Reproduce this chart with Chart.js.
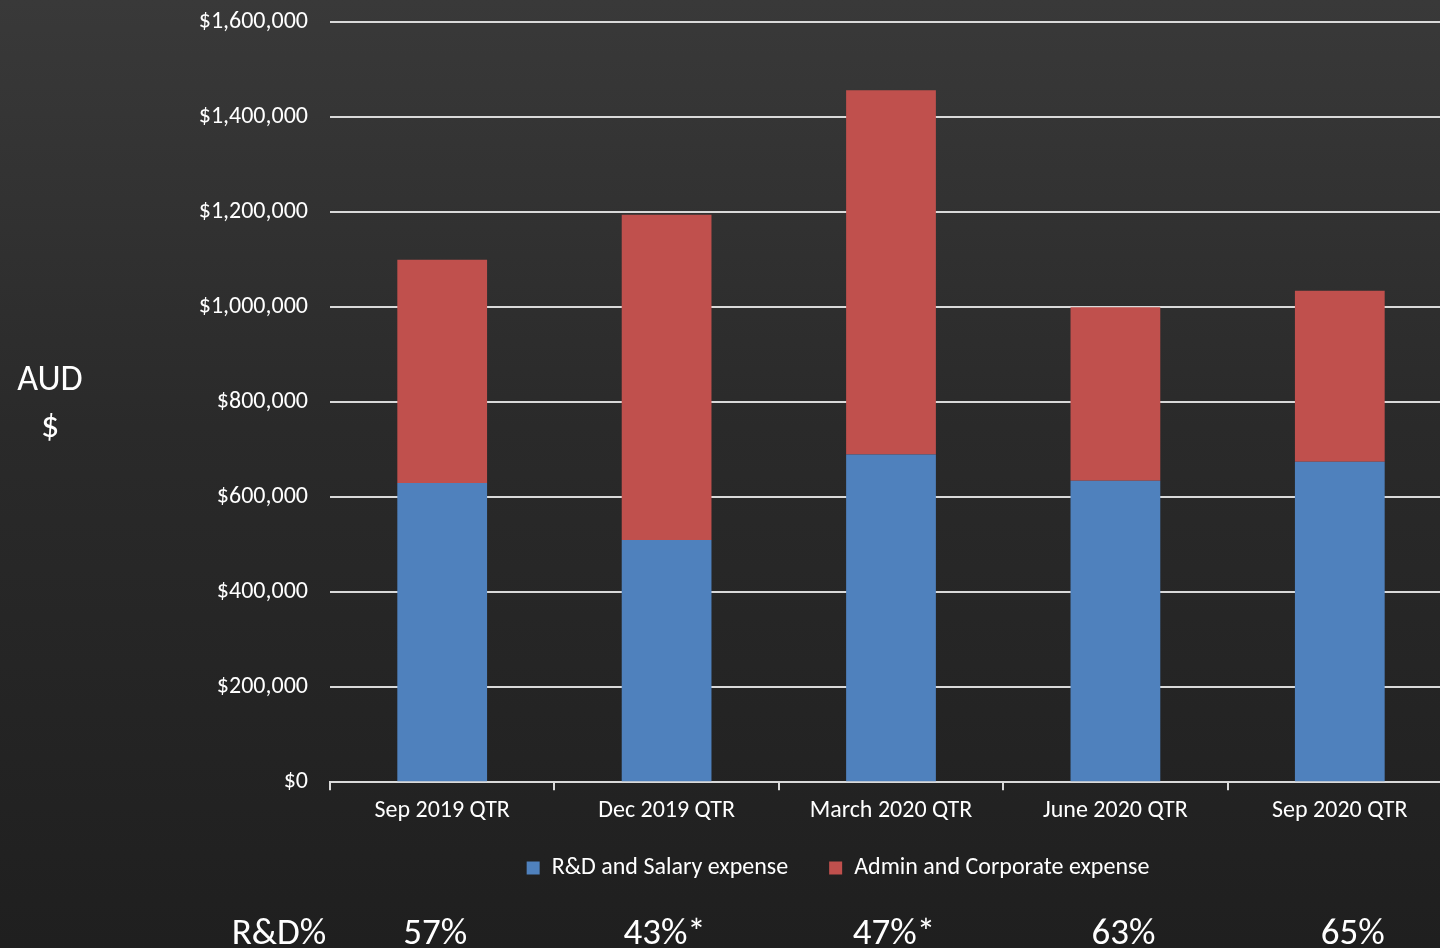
<!DOCTYPE html>
<html>
<head>
<meta charset="utf-8">
<script src="https://cdn.jsdelivr.net/npm/chart.js@4"></script>
<style>
  html, body { margin: 0; padding: 0; }
  body {
    width: 1440px; height: 948px; overflow: hidden;
    background: linear-gradient(180deg, #393939 0%, #2a2a2a 45%, #1f1f1f 100%);
  }
  #wrap { position: relative; width: 1440px; height: 948px; overflow: hidden; }
  /* plot runs a little past the right edge, and the top tick sits close to the top */
  #costChart { position: absolute; left: 0; top: -14px; }
  .aud {
    position: absolute; left: 0; width: 100px; top: 355px;
    color: #fff; font: 36px Carlito, Lato, sans-serif; text-align: center; line-height: 47px;
  }
</style>
</head>
<body>
<div id="wrap">
  <canvas id="costChart" width="1452" height="962"></canvas>
  <div class="aud">AUD<br>$</div>
</div>
<script>
const quarters = ["Sep 2019 QTR", "Dec 2019 QTR", "March 2020 QTR", "June 2020 QTR", "Sep 2020 QTR"];
const rdSalary = [630000, 510000, 690000, 635000, 675000];
const adminCorporate = [470000, 685000, 767000, 365000, 360000];
const rdPercent = ["57%", "43%*", "47%*", "63%", "65%"];

const FONT = "Carlito, Lato, sans-serif";
const fmt = v => "$" + v.toLocaleString("en-US");

// R&D% row under the legend
const rdRow = {
  id: "rdRow",
  afterLayout(chart) {
    // legend sits right of centre in the original
    const lg = chart.legend;
    lg.left += 112; lg.right += 112;
    lg.top -= 16; lg.bottom -= 16;
  },
  afterDraw(chart) {
    const ctx = chart.ctx;
    const x = chart.scales.x;
    const y = chart.height - 13;
    ctx.save();
    ctx.fillStyle = "#ffffff";
    ctx.font = "37px " + FONT;
    ctx.textAlign = "center";
    ctx.textBaseline = "middle";
    ctx.fillText("R&D%", 279, y);
    // the percentages sit a little off the category centres
    rdPercent.forEach((p, i) => ctx.fillText(p, x.getPixelForValue(i) + (i - 1) * 5 - 2, y));
    ctx.restore();
  }
};

document.addEventListener("DOMContentLoaded", () => {
  const ctx = document.getElementById("costChart").getContext("2d");
  new Chart(ctx, {
    type: "bar",
    data: {
      labels: quarters,
      datasets: [
        { label: "R&D and Salary expense", data: rdSalary, backgroundColor: "#4f81bd" },
        { label: "Admin and Corporate expense", data: adminCorporate, backgroundColor: "#c0504d" }
      ]
    },
    options: {
      responsive: false,
      animation: false,
      layout: { padding: { top: 0, right: 0, bottom: 42, left: 0 } },
      datasets: { bar: { categoryPercentage: 1, barPercentage: 0.4 } },
      scales: {
        x: {
          stacked: true,
          grid: { offset: true, drawOnChartArea: false, drawTicks: true, tickLength: 8, color: "#d9d9d9", lineWidth: 2 },
          border: { color: "#d9d9d9", width: 2 },
          ticks: { color: "#ffffff", font: { family: FONT, size: 24 }, padding: 6 }
        },
        y: {
          stacked: true,
          min: 0, max: 1600000,
          afterFit(scale) { scale.width = 330; },
          grid: { color: "#d9d9d9", lineWidth: 2, drawTicks: false },
          border: { display: false },
          ticks: { stepSize: 200000, color: "#ffffff", font: { family: FONT, size: 24 }, padding: 22, callback: v => fmt(v) }
        }
      },
      plugins: {
        legend: {
          position: "bottom",
          labels: { color: "#ffffff", font: { family: FONT, size: 24 }, boxWidth: 13, boxHeight: 13, padding: 41 }
        },
        tooltip: { enabled: false }
      }
    },
    plugins: [rdRow]
  });
});
</script>
</body>
</html>
